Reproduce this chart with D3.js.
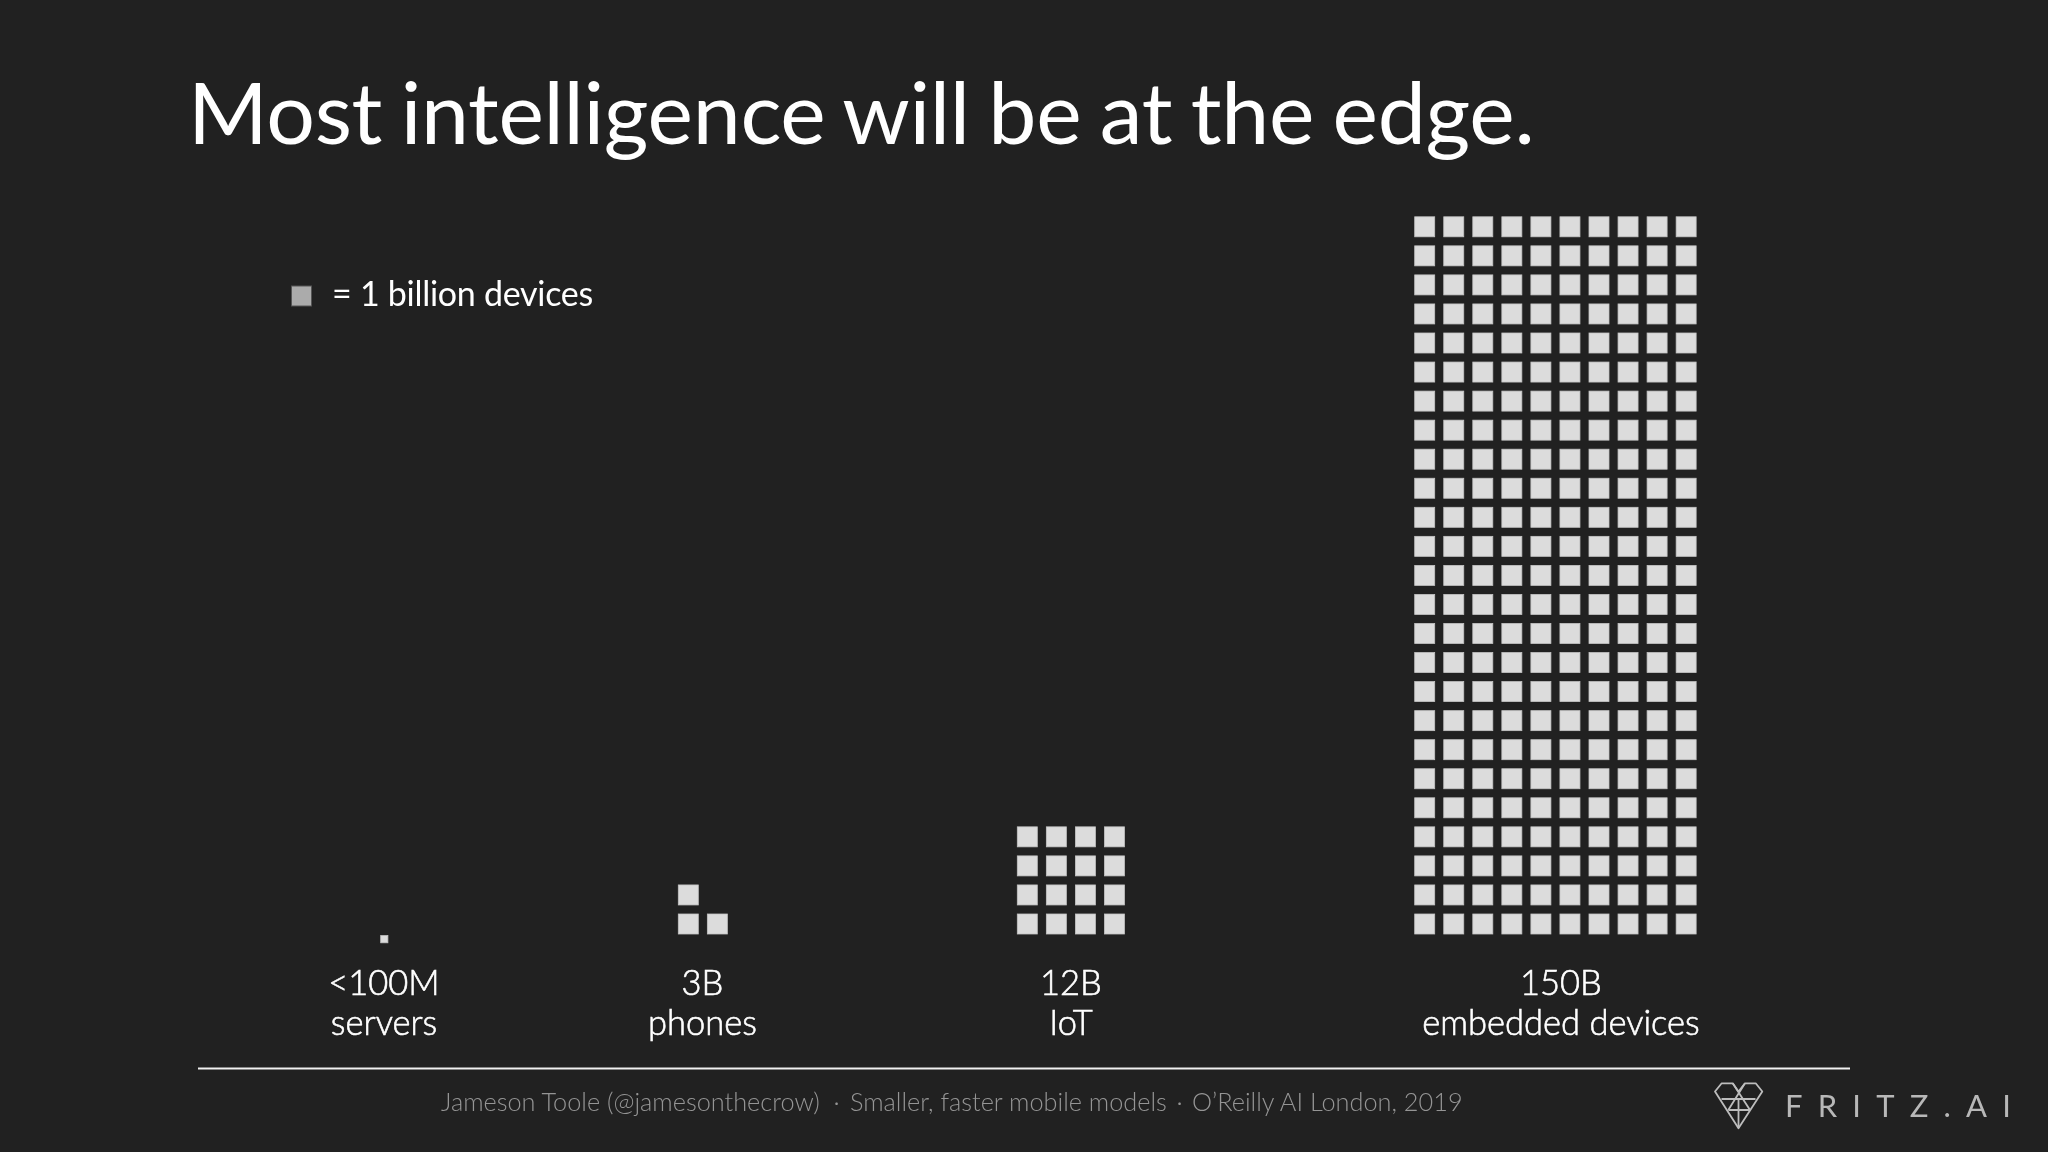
<!DOCTYPE html>
<html><head><meta charset="utf-8">
<script src="https://cdn.jsdelivr.net/npm/d3@7/dist/d3.min.js"></script>
<style>html,body{margin:0;padding:0;background:#212121;overflow:hidden}svg{display:block;filter:blur(0.45px)}text{font-family:Lato,sans-serif}</style>
</head><body><svg id="c" width="2048" height="1152"></svg>
<script>
const titleText = "Most intelligence will be at the edge.";
const legendText = "= 1 billion devices";
const valueLabels = ["<100M","3B","12B","150B"];
const categoryLabels = ["servers","phones","IoT","embedded devices"];
const labelCenters = [384,702.5,1071,1561];
const drawnSquares = [1,3,16,250];
const squaresPerRow = [1,2,4,10];
const squareSizes = [7.2,20,20,20];
const groupLeft = [380.7,678.3,1017.3,1414.7];
const groupBottom = [942.8,934,934,934];
const footerParts = ["Jameson Toole (@jamesonthecrow)","·","Smaller, faster mobile models","·","O’Reilly AI London, 2019"];
const footerStarts = [441,833.5,850,1176.5,1192];
const brand = "FRITZ.AI";

const W=2048,H=1152, pitch=29.05;
const svg=d3.select("#c");
svg.append("rect").attr("width",W).attr("height",H).attr("fill","#212121");
svg.append("text").attr("x",188).attr("y",144).attr("font-size",86).attr("font-weight",400).attr("letter-spacing",-0.3).attr("word-spacing",-3.2).attr("fill","#fff").text(titleText);

// legend
svg.append("rect").attr("x",291.5).attr("y",286).attr("width",20).attr("height",20).attr("fill","#ababab").attr("stroke","#555").attr("stroke-width",1);
svg.append("text").attr("x",332).attr("y",306).attr("font-size",34).attr("letter-spacing",-0.27).attr("fill","#fff").text(legendText);

// squares
const g=svg.append("g");
drawnSquares.forEach((n,i)=>{
  const s=squareSizes[i];
  const col=d3.scaleLinear().domain([0,1]).range([groupLeft[i],groupLeft[i]+pitch]);
  const row=d3.scaleLinear().domain([0,1]).range([groupBottom[i]-s,groupBottom[i]-s-pitch]);
  const cells=d3.range(n).map(k=>({c:k%squaresPerRow[i],r:Math.floor(k/squaresPerRow[i])}));
  g.append("g").selectAll("rect").data(cells).join("rect")
    .attr("x",d=>col(d.c)).attr("y",d=>row(d.r))
    .attr("width",s).attr("height",s)
    .attr("fill","#dcdcdc").attr("stroke","#c4c4c4").attr("stroke-width",0.8);
});

// labels
valueLabels.forEach((t,i)=>{
  [[t,995],[categoryLabels[i],1035]].forEach(([s,y])=>{
    svg.append("text").attr("x",labelCenters[i]).attr("y",y).attr("text-anchor","middle").attr("font-size",34.5).attr("font-weight",300).attr("stroke","#fff").attr("stroke-width",0.6).attr("fill","#fff").text(s);
  });
});

// footer
svg.append("line").attr("x1",198).attr("x2",1850).attr("y1",1068.5).attr("y2",1068.5).attr("stroke","#f0f0f0").attr("stroke-width",2);
footerParts.forEach((t,i)=>{
  svg.append("text").attr("x",footerStarts[i]).attr("y",1111).attr("font-size",25.3).attr("font-weight",300).attr("fill","#959595").text(t);
});

// logo
const logo=svg.append("g").attr("fill","none").attr("stroke","#bdbdbd").attr("stroke-width",1.8).attr("stroke-linejoin","round");
logo.append("path").attr("d","M1715,1091.5 L1721.7,1083.3 L1732.7,1083.3 L1738.5,1091.5 L1745,1083.3 L1755.7,1083.3 L1762.3,1091.5 L1738.5,1128.3 Z");
logo.append("path").attr("d","M1732.7,1083.3 L1750,1110 M1745,1083.3 L1728.3,1110 M1721.5,1099 L1755.5,1099 M1738.5,1099 L1738.5,1128 M1728.3,1110 L1750,1110");
svg.append("text").attr("x",1785).attr("y",1117).attr("font-size",31).attr("font-weight",400).attr("fill","#b8b8b8").attr("letter-spacing",15.2).text(brand);
</script></body></html>
